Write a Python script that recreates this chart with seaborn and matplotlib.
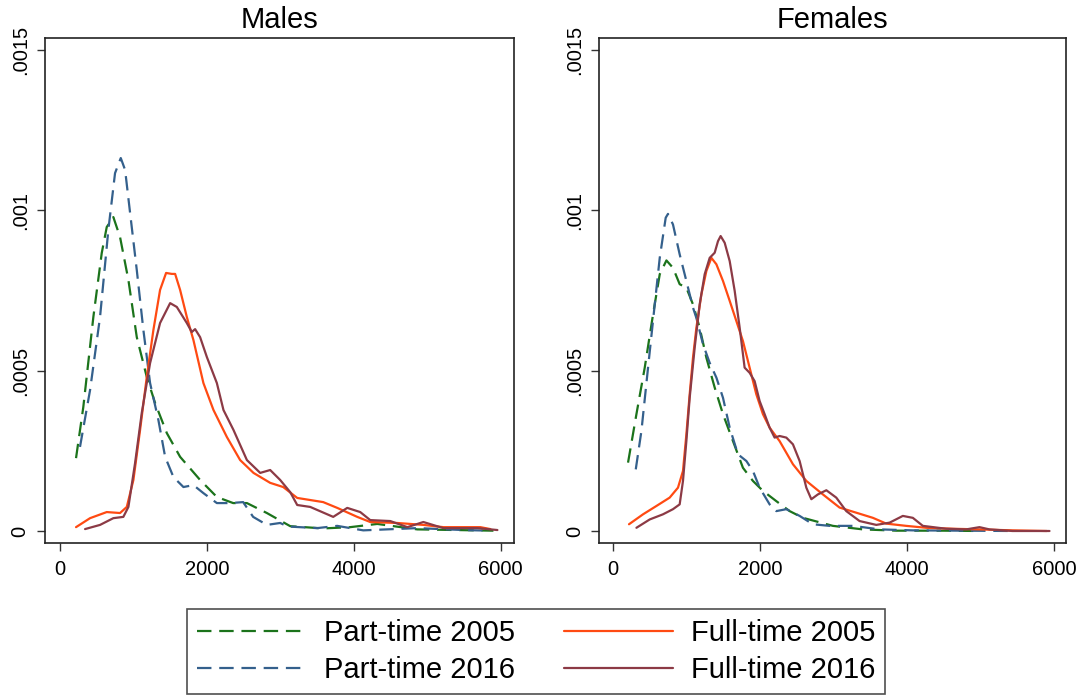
import pandas as pd
import matplotlib
matplotlib.use("Agg")
import matplotlib.pyplot as plt
import seaborn as sns

# Kernel density estimates of monthly earnings
series_names = ["Part-time 2005", "Part-time 2016", "Full-time 2005", "Full-time 2016"]
series_colors = ["#1b731b", "#34608c", "#ff4a12", "#8c3a45"]
series_dashed = [True, True, False, False]

# ---- Males ----
m_pt05_x = [218, 317, 454, 568, 636, 726, 817, 931, 1045, 1181, 1294, 1454, 1635, 1907, 2135,
            2357, 2544, 2816, 3134, 3583, 3951, 4319, 4864, 5400, 5900]
m_pt05_y = [0.000227, 0.000386, 0.000667, 0.000866, 0.000947, 0.000978, 0.000916, 0.000782, 0.000604,
            0.000480, 0.000399, 0.000305, 0.000231, 0.000159, 0.000106, 0.000087, 0.000087, 0.000056,
            0.000015, 0.000008, 0.000012, 0.000022, 0.000005, 0.000003, 0.000001]

m_pt16_x = [272, 409, 545, 658, 749, 827, 886, 954, 1045, 1135, 1226, 1339, 1431, 1544, 1680,
            1816, 1952, 2135, 2316, 2493, 2629, 2816, 2997, 3100, 3501, 3774, 4128, 4864, 5490, 5858]
m_pt16_y = [0.000262, 0.000439, 0.000667, 0.000938, 0.001115, 0.001162, 0.001125, 0.000991, 0.000813,
            0.000626, 0.000461, 0.000346, 0.000231, 0.000168, 0.000137, 0.000143, 0.000118, 0.000087,
            0.000087, 0.000090, 0.000044, 0.000019, 0.000025, 0.000014, 0.000009, 0.000016, 0.000002,
            0.000009, 0.000003, 0.000001]

m_ft05_x = [218, 409, 636, 817, 909, 999, 1090, 1181, 1271, 1362, 1444, 1522, 1567, 1635, 1726,
            1816, 1952, 2089, 2271, 2452, 2634, 2861, 3038, 3229, 3583, 3774, 4046, 4223, 4591,
            4946, 5218, 5722, 5858]
m_ft05_y = [0.000012, 0.000040, 0.000059, 0.000056, 0.000075, 0.000159, 0.000315, 0.000480, 0.000626,
            0.000751, 0.000804, 0.000801, 0.000801, 0.000751, 0.000667, 0.000595, 0.000461, 0.000377,
            0.000293, 0.000221, 0.000181, 0.000150, 0.000137, 0.000103, 0.000090, 0.000072, 0.000044,
            0.000028, 0.000025, 0.000019, 0.000012, 0.000012, 0.000006]

m_ft16_x = [341, 545, 726, 862, 931, 1022, 1113, 1226, 1362, 1499, 1590, 1726, 1794, 1839, 1907,
            1999, 2135, 2225, 2361, 2544, 2725, 2861, 2997, 3134, 3229, 3406, 3719, 3910, 4087,
            4223, 4496, 4728, 4946, 5218, 5681, 5954]
m_ft16_y = [0.000006, 0.000019, 0.000040, 0.000044, 0.000075, 0.000212, 0.000368, 0.000523, 0.000648,
            0.000710, 0.000698, 0.000648, 0.000620, 0.000629, 0.000604, 0.000542, 0.000461, 0.000377,
            0.000315, 0.000221, 0.000181, 0.000190, 0.000159, 0.000121, 0.000081, 0.000075, 0.000044,
            0.000072, 0.000059, 0.000034, 0.000031, 0.000012, 0.000028, 0.000009, 0.000009, 0.000003]

# ---- Females ----
f_pt05_x = [208, 322, 435, 548, 639, 730, 819, 910, 1001, 1091, 1182, 1273, 1386, 1499, 1635,
            1770, 1906, 2042, 2224, 2405, 2586, 2993, 3401, 3855, 4500, 5000]
f_pt05_y = [0.000213, 0.000364, 0.000509, 0.000675, 0.000800, 0.000843, 0.000820, 0.000769, 0.000758,
            0.000706, 0.000633, 0.000540, 0.000447, 0.000364, 0.000280, 0.000197, 0.000156, 0.000125,
            0.000093, 0.000062, 0.000041, 0.000016, 0.000005, 0.000001, 0.000001, 0.0]

f_pt16_x = [313, 390, 480, 571, 639, 720, 751, 819, 910, 1001, 1091, 1137, 1227, 1318, 1409, 1499,
            1590, 1702, 1817, 1906, 1997, 2133, 2224, 2360, 2541, 2721, 2948, 3265, 3628, 4076, 5435]
f_pt16_y = [0.000192, 0.000312, 0.000509, 0.000706, 0.000851, 0.000976, 0.000988, 0.000955, 0.000862,
            0.000779, 0.000696, 0.000664, 0.000582, 0.000524, 0.000478, 0.000415, 0.000322, 0.000239,
            0.000218, 0.000187, 0.000135, 0.000083, 0.000062, 0.000068, 0.000047, 0.000021, 0.000016,
            0.000016, 0.000005, 0.000002, 0.0]

f_ft05_x = [221, 412, 594, 774, 887, 955, 1001, 1046, 1091, 1137, 1205, 1273, 1341, 1409, 1499,
            1590, 1681, 1770, 1861, 1952, 2042, 2133, 2269, 2450, 2632, 2857, 3084, 3311, 3537,
            3719, 3990, 4262, 4624, 4986, 5435, 5900]
f_ft05_y = [0.000021, 0.000052, 0.000078, 0.000104, 0.000135, 0.000187, 0.000301, 0.000426, 0.000540,
            0.000633, 0.000737, 0.000810, 0.000851, 0.000831, 0.000779, 0.000717, 0.000654, 0.000592,
            0.000509, 0.000426, 0.000364, 0.000322, 0.000280, 0.000208, 0.000156, 0.000114, 0.000073,
            0.000057, 0.000041, 0.000023, 0.000016, 0.000010, 0.000007, 0.000005, 0.000002, 0.0]

f_ft16_x = [322, 503, 683, 819, 910, 955, 1001, 1046, 1114, 1182, 1250, 1318, 1386, 1431, 1467,
            1522, 1590, 1658, 1726, 1793, 1861, 1929, 1997, 2065, 2133, 2201, 2269, 2360, 2450,
            2541, 2632, 2700, 2789, 2904, 3039, 3175, 3356, 3583, 3764, 3944, 4080, 4216, 4533,
            4804, 4986, 5122, 5435, 5938]
f_ft16_y = [0.000010, 0.000036, 0.000052, 0.000068, 0.000083, 0.000156, 0.000280, 0.000415, 0.000571,
            0.000706, 0.000800, 0.000851, 0.000867, 0.000903, 0.000919, 0.000898, 0.000841, 0.000748,
            0.000633, 0.000509, 0.000493, 0.000467, 0.000405, 0.000364, 0.000322, 0.000291, 0.000296,
            0.000291, 0.000270, 0.000218, 0.000135, 0.000099, 0.000114, 0.000127, 0.000104, 0.000062,
            0.000031, 0.000019, 0.000026, 0.000047, 0.000041, 0.000016, 0.000007, 0.000005, 0.000012,
            0.000005, 0.0, 0.0]

panel_titles = ["Males", "Females"]
panel_data = [
    [(m_pt05_x, m_pt05_y), (m_pt16_x, m_pt16_y), (m_ft05_x, m_ft05_y), (m_ft16_x, m_ft16_y)],
    [(f_pt05_x, f_pt05_y), (f_pt16_x, f_pt16_y), (f_ft05_x, f_ft05_y), (f_ft16_x, f_ft16_y)],
]
x_ticks = [0, 2000, 4000, 6000]
y_ticks = [0, 0.0005, 0.001, 0.0015]
y_tick_labels = ["0", ".0005", ".001", ".0015"]

sns.set_style("white")
plt.rcParams["font.family"] = ["Liberation Sans", "DejaVu Sans"]
plt.rcParams["text.color"] = "black"
plt.rcParams["xtick.color"] = "black"
plt.rcParams["ytick.color"] = "black"

fig = plt.figure(figsize=(10.85, 6.95), dpi=100)
axes_pos = [[0.0415, 0.2187, 0.4323, 0.7266], [0.5524, 0.2187, 0.4304, 0.7266]]
x_limits = [(-204, 6181), (-182, 6167)]

for i, title in enumerate(panel_titles):
    ax = fig.add_axes(axes_pos[i])
    for j, name in enumerate(series_names):
        xs, ys = panel_data[i][j]
        df = pd.DataFrame({"x": xs, "y": ys})
        ls = (0, (6.5, 3.5)) if series_dashed[j] else "-"
        sns.lineplot(data=df, x="x", y="y", ax=ax, color=series_colors[j],
                     linestyle=ls, linewidth=1.6, label=name, sort=False, legend=False)
    ax.set_xlim(*x_limits[i])
    ax.set_ylim(-3.74e-5, 0.001536)
    ax.set_xticks(x_ticks)
    ax.set_xticklabels([str(t) for t in x_ticks], fontsize=14.5)
    ax.set_yticks(y_ticks)
    ax.set_yticklabels(y_tick_labels, fontsize=14.5, rotation=90, va="center")
    ax.tick_params(axis="both", direction="out", length=6, width=1, color="#333333",
                   bottom=True, left=True)
    ax.tick_params(axis="x", pad=6)
    ax.tick_params(axis="y", pad=5)
    ax.set_xlabel("")
    ax.set_ylabel("")
    for sp in ax.spines.values():
        sp.set_color("#222222")
        sp.set_linewidth(1.2)
    ax.set_title(title, fontsize=21, pad=7, color="black")
    if i == 0:
        handles, labels = ax.get_legend_handles_labels()

leg = fig.legend(handles, labels, loc="center", bbox_to_anchor=(0.494, 0.0626), ncol=2,
                 fontsize=21, frameon=True, fancybox=False, handlelength=3.73,
                 handletextpad=0.62, columnspacing=1.68, labelspacing=0.32, borderpad=0.35)
leg.get_frame().set_edgecolor("#222222")
leg.get_frame().set_linewidth(1.2)

fig.savefig("out.png", dpi=100)
